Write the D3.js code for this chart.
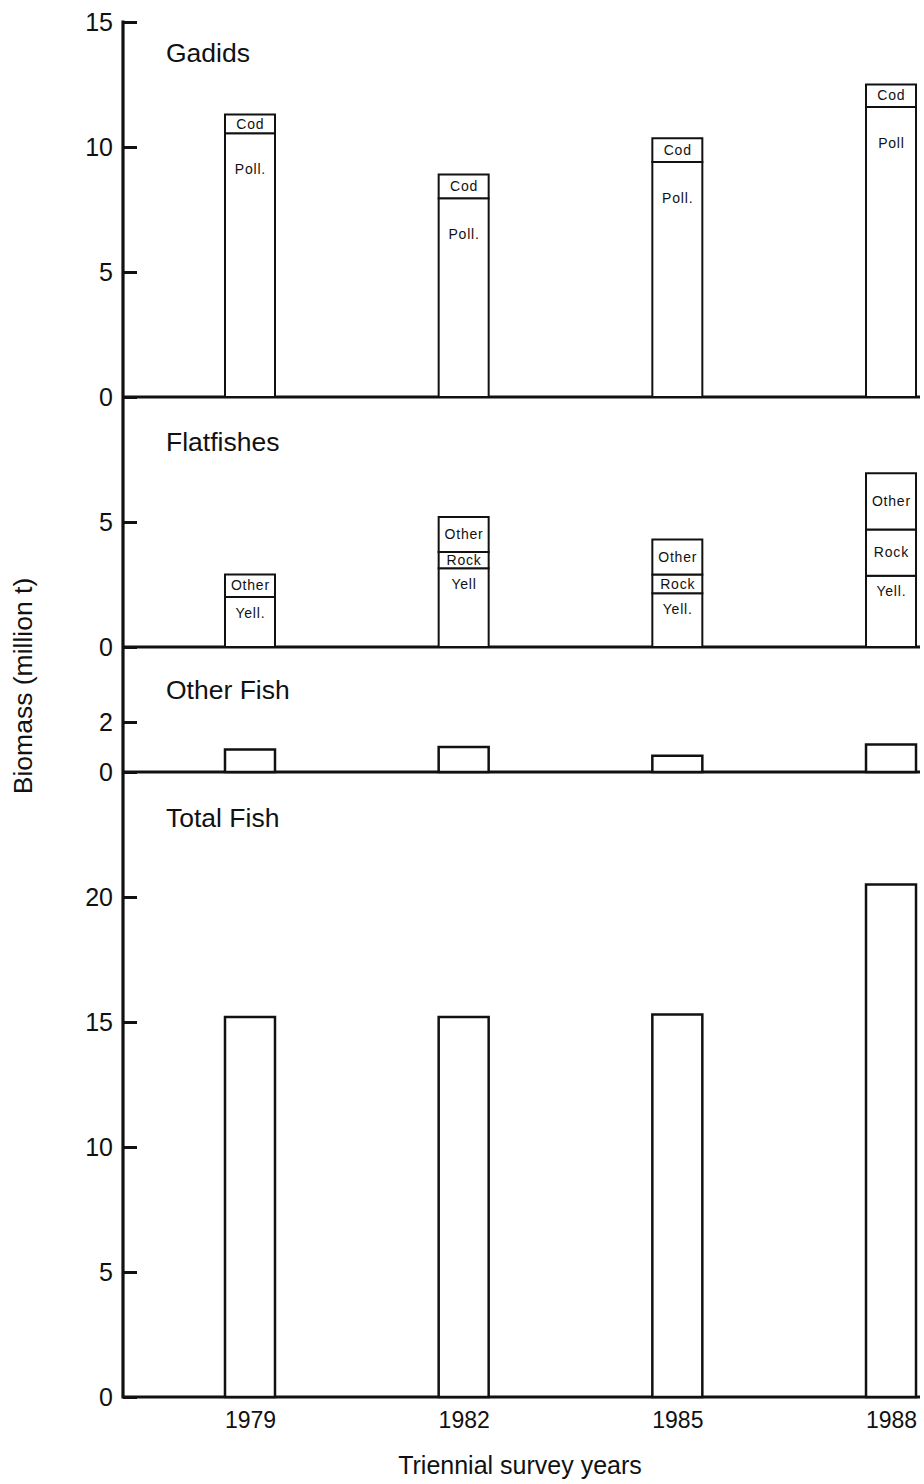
<!DOCTYPE html>
<html>
<head>
<meta charset="utf-8">
<script src="https://cdn.jsdelivr.net/npm/d3@7"></script>
<style>
  body { margin: 0; background: #fff; }
  svg { display: block; font-family: "Liberation Sans", Arial, Helvetica, sans-serif; }
</style>
</head>
<body>
<svg id="chart" width="924" height="1484"></svg>
<script>
// Eastern Bering Sea groundfish biomass, triennial surveys (million t)
const years = [1979, 1982, 1985, 1988];

// Gadids
const pollock = [10.55, 7.95, 9.4, 11.6];
const cod = [0.75, 0.95, 0.95, 0.9];

// Flatfishes
const yellowfinSole = [2.0, 3.15, 2.15, 2.85];
const rockSole = [0, 0.65, 0.75, 1.85];
const otherFlatfish = [0.9, 1.4, 1.4, 2.25];

// Other fish and total
const otherFish = [0.9, 1.0, 0.65, 1.1];
const totalFish = [15.2, 15.2, 15.3, 20.5];

// Segment labels
const pollockLabels = ["Poll.", "Poll.", "Poll.", "Poll"];
const codLabels = ["Cod", "Cod", "Cod", "Cod"];
const yellowfinLabels = ["Yell.", "Yell", "Yell.", "Yell."];
const rockLabels = ["", "Rock", "Rock", "Rock"];
const otherFlatLabels = ["Other", "Other", "Other", "Other"];

// Axis ticks and panel titles
const gadidTicks = [0, 5, 10, 15];
const flatTicks = [0, 5];
const otherTicks = [0, 2];
const totalTicks = [0, 5, 10, 15, 20];
const panelTitles = ["Gadids", "Flatfishes", "Other Fish", "Total Fish"];
const panelMax = [15, 10, 5, 25];
const yTitle = "Biomass (million t)";
const xTitle = "Triennial survey years";

// ---- layout ----
const svg = d3.select("#chart");
const axisX = 123, rightX = 920;
const plotTop = 22, unitPx = 25;
const barW = 50;
const ink = "#111";
const titleDrop = [33, 47, 45, 48];   // title centre below each panel's top edge
const segFont = 14, segSpacing = 0.8;

const x = d3.scaleLinear().domain([1977.217, 1988.407]).range([axisX, rightX]);

// one y scale per stacked panel, all sharing the same pixels per unit
const scales = [];
let panelTop = plotTop;
panelMax.forEach(m => {
  const bottom = panelTop + m * unitPx;
  scales.push(d3.scaleLinear().domain([0, m]).range([bottom, panelTop]));
  panelTop = bottom;
});
const [yG, yF, yO, yT] = scales;
const tickSets = [gadidTicks, flatTicks, otherTicks, totalTicks];

// panel axes: inward ticks, labels on the left
scales.forEach((s, i) => {
  const g = svg.append("g").attr("transform", `translate(${axisX},0)`)
    .call(d3.axisLeft(s).tickValues(tickSets[i]).tickSize(-14).tickPadding(10).tickFormat(d3.format("d")));
  g.select(".domain").remove();
  g.selectAll(".tick line").attr("stroke", ink).attr("stroke-width", 3);
  g.selectAll(".tick text").attr("fill", ink).attr("font-size", 25).attr("font-family", null);
  // zero baseline across the panel
  svg.append("line")
    .attr("x1", axisX).attr("x2", rightX)
    .attr("y1", s(0)).attr("y2", s(0))
    .attr("stroke", ink).attr("stroke-width", 3);
  // panel title
  svg.append("text")
    .attr("x", 166).attr("y", s.range()[1] + titleDrop[i])
    .attr("dominant-baseline", "middle")
    .attr("font-size", 26.5).attr("fill", ink)
    .text(panelTitles[i]);
});

// shared vertical axis line
svg.append("line")
  .attr("x1", axisX).attr("x2", axisX)
  .attr("y1", plotTop - 1.5).attr("y2", yT(0) + 1.5)
  .attr("stroke", ink).attr("stroke-width", 3.2);

// stacked bar helper
function drawStack(yScale, series, labelFns) {
  const rows = years.map((yr, i) => {
    const r = { year: yr, i };
    series.forEach((s, k) => r["s" + k] = s[i]);
    return r;
  });
  const keys = series.map((_, k) => "s" + k);
  const stacked = d3.stack().keys(keys)(rows);
  stacked.forEach((layer, k) => {
    const seg = svg.append("g");
    layer.forEach(d => {
      if (d[1] - d[0] <= 0) return;
      const yr = d.data.year;
      seg.append("rect")
        .attr("x", x(yr) - barW / 2).attr("width", barW)
        .attr("y", yScale(d[1])).attr("height", yScale(d[0]) - yScale(d[1]))
        .attr("fill", "#fff").attr("stroke", ink).attr("stroke-width", 2);
      const lab = labelFns[k](d);
      if (lab.text) {
        seg.append("text")
          .attr("x", x(yr) + segSpacing / 2).attr("y", lab.y)
          .attr("text-anchor", "middle").attr("dominant-baseline", "middle")
          .attr("font-size", segFont).attr("letter-spacing", segSpacing).attr("fill", ink)
          .text(lab.text);
      }
    });
  });
}

// Gadids: pollock then cod
drawStack(yG, [pollock, cod], [
  d => ({ text: pollockLabels[d.data.i], y: yG(d[1]) + 37 }),
  d => ({ text: codLabels[d.data.i], y: (yG(d[0]) + yG(d[1])) / 2 + 1 })
]);

// Flatfishes: yellowfin, rock sole, other flatfish
drawStack(yF, [yellowfinSole, rockSole, otherFlatfish], [
  d => ({ text: yellowfinLabels[d.data.i], y: yF(d[1]) + 17 }),
  d => ({ text: rockLabels[d.data.i], y: (yF(d[0]) + yF(d[1])) / 2 + 1 }),
  d => ({ text: otherFlatLabels[d.data.i], y: (yF(d[0]) + yF(d[1])) / 2 + 1 })
]);

// Other fish and total fish single bars
[[yO, otherFish], [yT, totalFish]].forEach(([s, vals]) => {
  svg.append("g").selectAll("rect").data(years).join("rect")
    .attr("x", d => x(d) - barW / 2).attr("width", barW)
    .attr("y", (d, i) => s(vals[i])).attr("height", (d, i) => s(0) - s(vals[i]))
    .attr("fill", "#fff").attr("stroke", ink).attr("stroke-width", 2.5);
});

// year axis under the total panel
const xa = svg.append("g").attr("transform", `translate(0,${yT(0)})`)
  .call(d3.axisBottom(x).tickValues(years).tickSize(0).tickPadding(15).tickFormat(d3.format("d")));
xa.select(".domain").remove();
xa.selectAll(".tick text").attr("fill", ink).attr("font-size", 23).attr("font-family", null);

// axis titles
svg.append("text")
  .attr("x", 520).attr("y", 1467)
  .attr("text-anchor", "middle").attr("dominant-baseline", "middle")
  .attr("font-size", 25).attr("fill", ink)
  .text(xTitle);

svg.append("text")
  .attr("transform", `translate(25,686) rotate(-90)`)
  .attr("text-anchor", "middle").attr("dominant-baseline", "middle")
  .attr("font-size", 26.5).attr("fill", ink)
  .text(yTitle);
</script>
</body>
</html>
